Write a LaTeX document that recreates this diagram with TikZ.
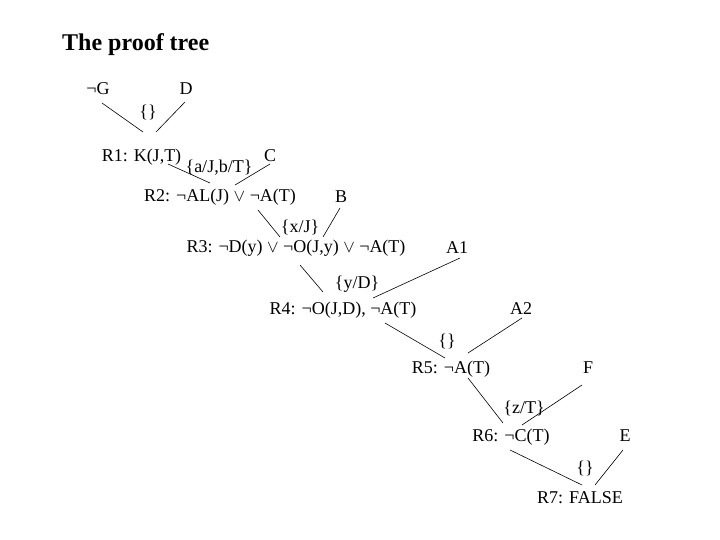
\documentclass[tikz,border=0pt]{standalone}
\usepackage{fontspec}
\setmainfont{Liberation Serif}
\usepackage{tikz}
\usetikzlibrary{positioning}
\tikzstyle{clause}=[inner sep=0pt, anchor=base, font=\fontsize{18}{20}\selectfont]
\tikzstyle{subst}=[clause]
\tikzstyle{edge}=[line width=0.6pt]
\newcommand{\orsym}{{\fontsize{16}{16}\selectfont$\vee$}}

\begin{document}
\begin{tikzpicture}[x=1pt, y=-1pt]
          \useasboundingbox (0,0) rectangle (720,540);
          \node[inner sep=0pt, anchor=base west, font=\fontsize{24}{27}\selectfont\bfseries] (title) at (62,51) {The proof tree};
          \node[clause] (ng) at (98,95) {¬G};
          \node[clause] (d) at (186,95) {D};
          \node[subst] (sub1) at (148,118) {\{\}};
          \node[clause] (r1) at (141.5,162) {R1: K(J,T)};
          \draw[edge]([shift={(4,8)}]ng.base) -- ([shift={(1.5,-30)}]r1.base);
          \draw[edge]([shift={(-1,7)}]d.base) -- ([shift={(14.5,-30)}]r1.base);
          \node[clause] (c) at (270,162) {C};
          \node[subst] (sub2) at (219,173) {\{a/J,b/T\}};
          \node[clause] (r2) at (220,202) {R2: ¬AL(J) \orsym{} ¬A(T)};
          \draw[edge]([shift={(26.5,2)}]r1.base) -- ([shift={(-10,-19)}]r2.base);
          \draw[edge]([shift={(0,2)}]c.base) -- ([shift={(15,-17)}]r2.base);
          \node[clause] (b) at (341,203) {B};
          \node[subst] (sub3) at (300,233) {\{x/J\}};
          \node[clause] (r3) at (296,252) {R3: ¬D(y) \orsym{} ¬O(J,y) \orsym{} ¬A(T)};
          \draw[edge]([shift={(38,8)}]r2.base) -- ([shift={(-16,-15)}]r3.base);
          \draw[edge]([shift={(-1,5)}]b.base) -- ([shift={(27,-15)}]r3.base);
          \node[clause] (a1) at (457,253) {A1};
          \node[subst] (sub4) at (357,288) {\{y/D\}};
          \node[clause] (r4) at (343,314) {R4: ¬O(J,D), ¬A(T)};
          \draw[edge]([shift={(4,13)}]r3.base) -- ([shift={(-20,-22)}]r4.base);
          \draw[edge]([shift={(3,5)}]a1.base) -- ([shift={(30,-16)}]r4.base);
          \node[clause] (a2) at (521,314) {A2};
          \node[subst] (sub5) at (447,346) {\{\}};
          \node[clause] (r5) at (451,373) {R5: ¬A(T)};
          \draw[edge]([shift={(42,9)}]r4.base) -- ([shift={(-6,-15)}]r5.base);
          \draw[edge]([shift={(1,4)}]a2.base) -- ([shift={(17,-20)}]r5.base);
          \node[clause] (f) at (588,373) {F};
          \node[subst] (sub6) at (524,413) {\{z/T\}};
          \node[clause] (r6) at (511,441) {R6: ¬C(T)};
          \draw[edge]([shift={(17,5)}]r5.base) -- ([shift={(-8,-18)}]r6.base);
          \draw[edge]([shift={(-6,12)}]f.base) -- ([shift={(11,-16)}]r6.base);
          \node[clause] (e) at (625,441) {E};
          \node[subst] (sub7) at (585,473) {\{\}};
          \node[clause] (r7) at (580,503) {R7: FALSE};
          \draw[edge]([shift={(-1,9)}]r6.base) -- ([shift={(2,-18)}]r7.base);
          \draw[edge]([shift={(-2,9)}]e.base) -- ([shift={(15,-18)}]r7.base);
\end{tikzpicture}
\end{document}
